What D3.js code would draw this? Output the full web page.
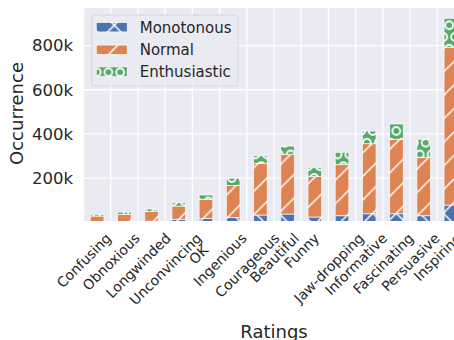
<!DOCTYPE html>
<html>
<head>
<meta charset="utf-8">
<script src="https://cdn.jsdelivr.net/npm/d3@7"></script>
<style>
  html, body { margin: 0; padding: 0; background: #fff; }
  svg { display: block; font-family: "DejaVu Sans", sans-serif; }
</style>
</head>
<body>
<svg id="chart" width="454" height="340"></svg>
<script>
// Rating categories and stacked occurrence counts per speaker style
const categories = ["Confusing", "Obnoxious", "Longwinded", "Unconvincing", "OK", "Ingenious",
  "Courageous", "Beautiful", "Funny", "Jaw-dropping", "Informative", "Fascinating",
  "Persuasive", "Inspiring"];
// tick label text per category (the OK label carries a leading blank line)
const tickLabels = ["Confusing", "Obnoxious", "Longwinded", "Unconvincing", "\nOK", "Ingenious",
  "Courageous", "Beautiful", "Funny", "Jaw-dropping", "Informative", "Fascinating",
  "Persuasive", "Inspiring"];
const monotonous   = [3000, 4000, 5000, 13600, 17000, 21700, 33000, 37500, 24000, 30000, 39000, 39000, 30000, 78000];
const normal       = [25500, 32000, 44000, 60000, 87000, 145000, 234000, 270000, 184000, 231000, 317000, 337000, 264000, 714000];
const enthusiastic = [7700, 10000, 11000, 14500, 19500, 32500, 34000, 37500, 39000, 56000, 57000, 69000, 81500, 131000];
const seriesNames = ["Monotonous", "Normal", "Enthusiastic"];
const yTicks = [200000, 400000, 600000, 800000];

const rows = categories.map((c, i) => ({
  category: c, index: i,
  Monotonous: monotonous[i], Normal: normal[i], Enthusiastic: enthusiastic[i]
}));

const svg = d3.select("#chart");
const plot = { left: 83.5, right: 464.5, top: 8, bottom: 221 };
const textColor = "#262626";

const x = d3.scaleLinear().domain([0, categories.length]).range([plot.left, plot.right]);
const y = d3.scaleLinear().domain([6000, 970000]).range([plot.bottom, plot.top]);

const colors = { Monotonous: "#4C72B0", Normal: "#DD8452", Enthusiastic: "#55A868" };
const hatchKind = { Monotonous: "x", Normal: "/", Enthusiastic: "o" };

// ---- hatch patterns (anchored to a common origin so they line up across bars) ----
const defs = svg.append("defs");
const H0 = { x: 8.55, y: 342.5 };  // hatch origin
const S = 23.5;                     // diagonal line spacing
const C = S / 2;                    // circle grid spacing

defs.append("clipPath").attr("id", "plotClip")
  .append("rect")
  .attr("x", plot.left).attr("y", plot.top)
  .attr("width", plot.right - plot.left).attr("height", plot.bottom - plot.top);

seriesNames.forEach(name => {
  const kind = hatchKind[name];
  const w = kind === "o" ? C : S;
  const p = defs.append("pattern")
    .attr("id", "hatch-" + name)
    .attr("patternUnits", "userSpaceOnUse")
    .attr("x", H0.x).attr("y", H0.y)
    .attr("width", w).attr("height", S);
  p.append("rect").attr("x", -1).attr("y", -1).attr("width", w + 2).attr("height", S + 2)
    .attr("fill", colors[name]);
  const g = p.append("g").attr("stroke", "#fff").attr("fill", "none");
  if (kind === "/" || kind === "x") {
    g.append("line").attr("x1", -2).attr("y1", S + 2).attr("x2", S + 2).attr("y2", -2);
    g.append("line").attr("x1", -2).attr("y1", 2).attr("x2", 2).attr("y2", -2);
    g.append("line").attr("x1", S - 2).attr("y1", S + 2).attr("x2", S + 2).attr("y2", S - 2);
  }
  if (kind === "x") {
    g.append("line").attr("x1", -2).attr("y1", -2).attr("x2", S + 2).attr("y2", S + 2);
    g.append("line").attr("x1", S - 2).attr("y1", -2).attr("x2", S + 2).attr("y2", 2);
    g.append("line").attr("x1", -2).attr("y1", S - 2).attr("x2", 2).attr("y2", S + 2);
  }
  if (kind === "o") {
    const pts = [[0, 0], [C, 0], [0, S], [C, S], [C / 2, S / 2]];
    pts.forEach(([cx, cy]) => g.append("circle").attr("cx", cx).attr("cy", cy).attr("r", 3.9));
  }
  g.attr("stroke-width", kind === "o" ? 1.8 : 1.5);
});

// ---- plot background and grid ----
svg.append("rect")
  .attr("x", plot.left).attr("y", plot.top)
  .attr("width", plot.right - plot.left).attr("height", plot.bottom - plot.top)
  .attr("fill", "#EAEAF2");

const grid = svg.append("g").attr("stroke", "#fff").attr("stroke-width", 1.3);
grid.selectAll("line.v").data(d3.range(categories.length)).join("line")
  .attr("class", "v")
  .attr("x1", d => x(d)).attr("x2", d => x(d))
  .attr("y1", plot.top).attr("y2", plot.bottom);
grid.selectAll("line.h").data(yTicks).join("line")
  .attr("class", "h")
  .attr("x1", plot.left).attr("x2", plot.right)
  .attr("y1", d => y(d)).attr("y2", d => y(d));

// ---- stacked bars: each bar sits in the right half of its tick slot ----
const stack = d3.stack().keys(seriesNames);
const layers = stack(rows);

const barsG = svg.append("g").attr("clip-path", "url(#plotClip)");
barsG.selectAll("g.layer").data(layers).join("g")
  .attr("class", "layer")
  .attr("fill", d => "url(#hatch-" + d.key + ")")
  .selectAll("rect").data(d => d).join("rect")
  .attr("x", d => x(d.data.index + 0.25))
  .attr("width", d => x(d.data.index + 0.75) - x(d.data.index + 0.25))
  .attr("y", d => y(d[1]))
  .attr("height", d => Math.max(0, y(d[0]) - y(d[1])))
  .attr("stroke", "#fff").attr("stroke-opacity", 0.75).attr("stroke-width", 0.9);

// ---- y axis ----
const yAxis = svg.append("g")
  .attr("transform", `translate(${plot.left},0)`)
  .call(d3.axisLeft(y).tickValues(yTicks).tickSize(0).tickPadding(10.5)
    .tickFormat(d => (d / 1000) + "k"));
yAxis.select(".domain").remove();
yAxis.selectAll("text")
  .attr("font-size", "16.5px").attr("font-family", "DejaVu Sans")
  .attr("fill", textColor);

// ---- x axis: rotated labels, rotated box centred on the tick, top at a fixed pad ----
const xFont = 14;
const lineH = xFont * 1.2;
const ascent = 0.928 * xFont, descent = 0.236 * xFont;
const xAxis = svg.append("g")
  .attr("transform", `translate(0,${plot.bottom})`)
  .call(d3.axisBottom(x).tickValues(d3.range(categories.length)).tickSize(0)
    .tickFormat(() => ""));
xAxis.select(".domain").remove();
xAxis.selectAll(".tick text").remove();
xAxis.selectAll(".tick").each(function (i) {
  const lines = tickLabels[i].split("\n");
  const g = d3.select(this).append("g");
  const t = g.append("text")
    .attr("font-size", xFont + "px").attr("font-family", "DejaVu Sans")
    .attr("fill", textColor).attr("text-anchor", "middle");
  lines.forEach((ln, k) => {
    t.append("tspan").attr("x", 0).attr("y", k * lineH).text(ln.length ? ln : "\u00a0")
      .attr("fill-opacity", ln.length ? 1 : 0);
  });
  let L = 0;
  t.selectAll("tspan").each(function (_, k) {
    if (lines[k].length) L = Math.max(L, this.getComputedTextLength());
  });
  const boxH = (lines.length - 1) * lineH + ascent + descent;
  const cy = ((lines.length - 1) * lineH + descent - ascent) / 2;
  const half = (L + boxH) * Math.SQRT1_2 / 2;
  g.attr("transform", `translate(0,${9 + half}) rotate(-45) translate(0,${-cy})`);
});

// ---- axis titles ----
svg.append("text")
  .attr("transform", `translate(23,${(plot.top + plot.bottom) / 2 - 1}) rotate(-90)`)
  .attr("text-anchor", "middle")
  .attr("font-size", "18px").attr("fill", textColor)
  .text("Occurrence");
svg.append("text")
  .attr("x", (plot.left + plot.right) / 2).attr("y", 338)
  .attr("text-anchor", "middle")
  .attr("font-size", "18px").attr("fill", textColor)
  .text("Ratings");

// ---- legend ----
const legend = svg.append("g");
legend.append("rect")
  .attr("x", 91.7).attr("y", 15).attr("width", 146.3).attr("height", 71)
  .attr("rx", 3).attr("ry", 3)
  .attr("fill", "#EAEAF2").attr("fill-opacity", 0.9)
  .attr("stroke", "#d6d6de").attr("stroke-width", 1);
const rowY = [27.2, 49.8, 71.6];
seriesNames.forEach((name, i) => {
  legend.append("rect")
    .attr("x", 96.3).attr("y", rowY[i] - 4.7)
    .attr("width", 31).attr("height", 9.4)
    .attr("fill", "url(#hatch-" + name + ")")
    .attr("stroke", "#fff").attr("stroke-opacity", 0.75).attr("stroke-width", 0.9);
  legend.append("text")
    .attr("x", 139.7).attr("y", rowY[i]).attr("dy", "0.36em")
    .attr("font-size", "15px").attr("fill", textColor)
    .text(name);
});
</script>
</body>
</html>
